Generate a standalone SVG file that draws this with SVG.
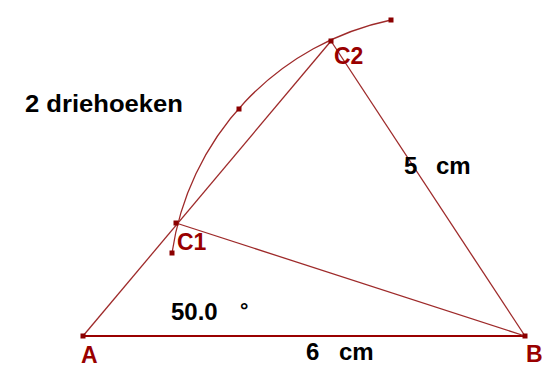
<svg xmlns="http://www.w3.org/2000/svg" width="542" height="367" viewBox="0 0 542 367">
<style>
.ln{stroke:#9e2a2a;stroke-width:1.3;fill:none}
.pt{fill:#8b0000}
.lbl{font-family:"Liberation Sans",Arial,sans-serif;font-weight:bold;fill:#990000;font-size:23px}
.txt{font-family:"Liberation Sans",Arial,sans-serif;font-weight:bold;fill:#000;font-size:24px}
</style>
<rect width="542" height="367" fill="#fff"/>
<g id="connectors">
<line class="ln" x1="83" y1="336" x2="525" y2="336" style="stroke-width:2;stroke:#990000"/>
<line class="ln" x1="83" y1="336" x2="331" y2="41"/>
<line class="ln" x1="176" y1="223" x2="525" y2="336"/>
<line class="ln" x1="331" y1="41" x2="525" y2="336"/>
<path class="ln" d="M172,253 A279,279 0 0 1 391,20"/>
</g>
<g id="A"><rect class="pt" x="80.5" y="333.5" width="5" height="5"/><text class="lbl" x="81" y="363">A</text></g>
<g id="B"><rect class="pt" x="522.5" y="333.5" width="5" height="5"/><text class="lbl" x="526" y="362">B</text></g>
<g id="C1"><rect class="pt" x="173.5" y="220.5" width="5" height="5"/><text class="lbl" x="177" y="250">C1</text></g>
<g id="C2"><rect class="pt" x="328.5" y="38.5" width="5" height="5"/><text class="lbl" x="334" y="64">C2</text></g>
<g id="arcpoints">
<rect class="pt" x="169.5" y="250.5" width="5" height="5"/>
<rect class="pt" x="236.5" y="106.5" width="5" height="5"/>
<rect class="pt" x="388.5" y="17.5" width="5" height="5"/>
</g>
<g id="labels">
<text class="txt" x="25" y="112" textLength="158" lengthAdjust="spacingAndGlyphs">2 driehoeken</text>
<text class="txt" x="404" y="174">5</text>
<text class="txt" x="436" y="174">cm</text>
<text class="txt" x="171" y="320">50.0</text>
<text class="txt" x="240" y="317" style="font-size:21px">°</text>
<text class="txt" x="306" y="360">6</text>
<text class="txt" x="339" y="360">cm</text>
</g>
</svg>
